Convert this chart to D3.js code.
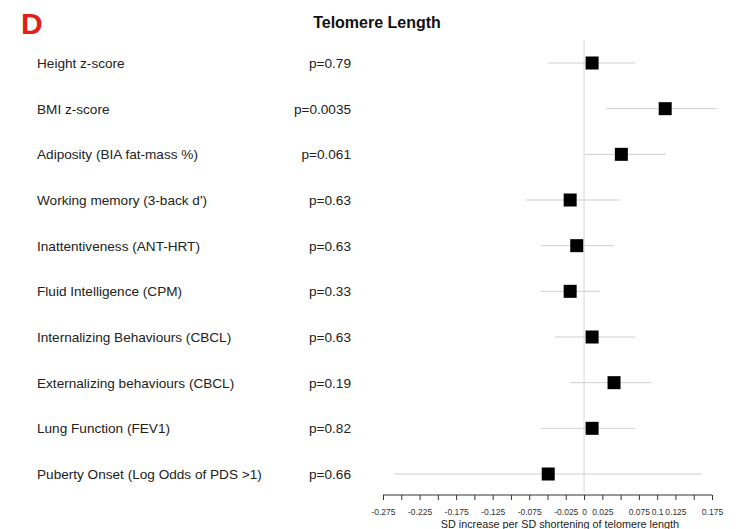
<!DOCTYPE html>
<html><head><meta charset="utf-8">
<script src="https://cdn.jsdelivr.net/npm/d3@7"></script>
<style>body{margin:0;background:#fff;} svg{display:block;}</style>
</head><body>
<script>
const categories = ["Height z-score","BMI z-score","Adiposity (BIA fat-mass %)","Working memory (3-back d')","Inattentiveness (ANT-HRT)","Fluid Intelligence (CPM)","Internalizing Behaviours (CBCL)","Externalizing behaviours (CBCL)","Lung Function (FEV1)","Puberty Onset (Log Odds of PDS >1)"];
const pValues = ["p=0.79","p=0.0035","p=0.061","p=0.63","p=0.63","p=0.33","p=0.63","p=0.19","p=0.82","p=0.66"];
const estimates = [0.011,0.111,0.051,-0.019,-0.010,-0.019,0.011,0.041,0.011,-0.049];
const lower = [-0.049,0.030,0.001,-0.080,-0.059,-0.059,-0.040,-0.019,-0.059,-0.260];
const upper = [0.070,0.182,0.112,0.051,0.041,0.021,0.070,0.092,0.070,0.161];
const tickValues = d3.range(-0.275,0.1751,0.025).map(v=>+v.toFixed(3));
const tickLabels = ["-0.275","-0.225","-0.175","-0.125","-0.075","-0.025","0","0.025","0.075","0.1","0.125","0.175"];

const W=740,H=529;
const svg=d3.select("body").append("svg").attr("width",W).attr("height",H);
const font="Liberation Sans, Arial, sans-serif";
const x=d3.scaleLinear().domain([-0.275,0.175]).range([383,712]);
const y=d3.scalePoint().domain(categories).range([63,474]);

svg.append("text").attr("x",21).attr("y",34).text("D").attr("font-family",font).attr("font-weight","bold").attr("font-size",30).attr("fill","#e0201b");
svg.append("text").attr("x",377).attr("y",28).attr("text-anchor","middle").text("Telomere Length").attr("font-family",font).attr("font-weight","bold").attr("font-size",16).attr("fill","#111");

svg.append("line").attr("x1",x(0)).attr("x2",x(0)).attr("y1",40).attr("y2",492).attr("stroke","#d8d8d8").attr("stroke-width",1);

const g=svg.append("g");
categories.forEach((c,i)=>{
  const yy=y(c);
  g.append("text").attr("x",37).attr("y",yy+5).text(c).attr("font-family",font).attr("font-size",13.6).attr("fill","#222");
  g.append("text").attr("x",351).attr("y",yy+5).attr("text-anchor","end").text(pValues[i]).attr("font-family",font).attr("font-size",13.6).attr("fill","#222");
  g.append("line").attr("x1",x(lower[i])).attr("x2",x(upper[i])).attr("y1",yy).attr("y2",yy).attr("stroke","#cfcfcf").attr("stroke-width",1);
  g.append("rect").attr("x",x(estimates[i])-6.5).attr("y",yy-6.5).attr("width",13).attr("height",13).attr("fill","#000");
});

const axis=d3.axisBottom(x).tickValues(tickValues).tickSize(5).tickFormat(d=>{
  const s=String(+d.toFixed(3));
  return tickLabels.includes(s)?s:"";
});
const ax=svg.append("g").attr("transform","translate(0,495)").call(axis);
ax.select(".domain").attr("stroke","#333").attr("d",`M${x(-0.275)},0H${x(0.175)}`);
ax.selectAll(".tick line").attr("stroke","#333");
ax.selectAll(".tick text").attr("font-family",font).attr("font-size",8.5).attr("fill","#333").attr("y",20).attr("dy","0");
svg.append("text").attr("x",x(-0.033)).attr("y",528).attr("text-anchor","middle").text("SD increase per SD shortening of telomere length").attr("font-family",font).attr("font-size",10.8).attr("fill","#222");
</script>
</body></html>
